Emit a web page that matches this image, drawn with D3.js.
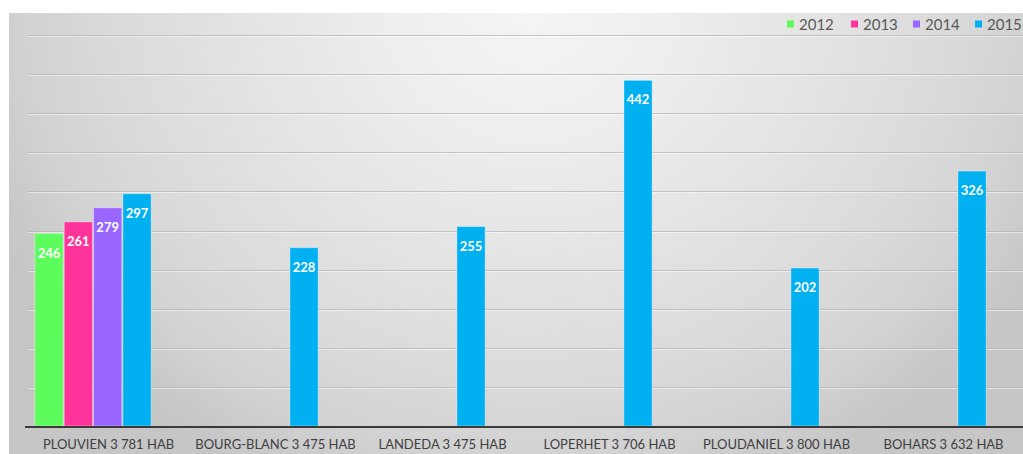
<!DOCTYPE html>
<html>
<head>
<meta charset="utf-8">
<script src="https://cdn.jsdelivr.net/npm/d3@7"></script>
<style>
  html, body { margin: 0; padding: 0; background: #ffffff; }
  svg { display: block; font-family: Lato, "Open Sans", sans-serif; }
</style>
</head>
<body>
<svg id="chart" width="1023" height="454"></svg>
<script>
// Communes and their population, one group of bars per commune
const communes = [
  "PLOUVIEN 3 781 HAB",
  "BOURG-BLANC 3 475 HAB",
  "LANDEDA 3 475 HAB",
  "LOPERHET 3 706 HAB",
  "PLOUDANIEL 3 800 HAB",
  "BOHARS 3 632 HAB"
];
const years = ["2012", "2013", "2014", "2015"];
// Values per year (null where a commune has no figure for that year)
const values2012 = [246, null, null, null, null, null];
const values2013 = [261, null, null, null, null, null];
const values2014 = [279, null, null, null, null, null];
const values2015 = [297, 228, 255, 442, 202, 326];
const yTicks = [50, 100, 150, 200, 250, 300, 350, 400, 450, 500];
const yearColors = ["#5cfc5c", "#ff3399", "#9966ff", "#00b0f0"];

const series = [values2012, values2013, values2014, values2015];

const svg = d3.select("#chart");
const W = 1023, H = 454;

// Soft gray panel, lightest near the top centre and darker towards the edges
const defs = svg.append("defs");
const grad = defs.append("radialGradient")
  .attr("id", "panelGrad")
  .attr("gradientUnits", "userSpaceOnUse")
  .attr("cx", 0).attr("cy", 0).attr("r", 1)
  .attr("gradientTransform", "translate(530,13) scale(594,528)");
[[0, "#f4f4f4"], [0.23, "#eeeeee"], [0.73, "#d9d9d9"], [0.86, "#d1d1d1"], [0.95, "#c8c8c8"], [1, "#c6c6c6"]]
  .forEach(([o, c]) => grad.append("stop").attr("offset", o).attr("stop-color", c));

svg.append("rect")
  .attr("x", 9).attr("y", 13)
  .attr("width", W - 9).attr("height", H - 13)
  .attr("fill", "url(#panelGrad)");

// Scales
const x0 = d3.scaleBand()
  .domain(communes)
  .range([9.5, 1011.5])
  .paddingInner(0.29)
  .paddingOuter(0.145);

const x1 = d3.scaleBand()
  .domain(years)
  .range([0, x0.bandwidth()])
  .padding(0.04);

const y = d3.scaleLinear()
  .domain([0, 500])
  .range([426, 35]);

const color = d3.scaleOrdinal().domain(years).range(yearColors);

// Horizontal gridlines with a faint highlight underneath
const grid = svg.append("g").attr("class", "grid");
grid.selectAll("line.g")
  .data(yTicks)
  .join("line")
  .attr("class", "g")
  .attr("x1", 28).attr("x2", W)
  .attr("y1", d => Math.round(y(d)) + 0.5)
  .attr("y2", d => Math.round(y(d)) + 0.5)
  .attr("stroke", "#b4b4b4").attr("stroke-opacity", 0.75).attr("stroke-width", 1);
grid.selectAll("line.h")
  .data(yTicks)
  .join("line")
  .attr("class", "h")
  .attr("x1", 28).attr("x2", W)
  .attr("y1", d => Math.round(y(d)) + 1.5)
  .attr("y2", d => Math.round(y(d)) + 1.5)
  .attr("stroke", "#ffffff").attr("stroke-opacity", 0.5).attr("stroke-width", 1);

// Bars
const rows = communes.map((c, i) => ({
  commune: c,
  bars: years.map((yr, j) => ({ year: yr, value: series[j][i] })).filter(b => b.value != null)
}));

const groups = svg.append("g").selectAll("g")
  .data(rows)
  .join("g")
  .attr("transform", d => `translate(${x0(d.commune)},0)`);

groups.selectAll("rect")
  .data(d => d.bars)
  .join("rect")
  .attr("x", d => x1(d.year))
  .attr("y", d => y(d.value))
  .attr("width", x1.bandwidth())
  .attr("height", d => y(0) - y(d.value))
  .attr("fill", d => color(d.year))
  .attr("stroke", "#ffffff").attr("stroke-opacity", 0.35).attr("stroke-width", 1);

groups.selectAll("text")
  .data(d => d.bars)
  .join("text")
  .attr("x", d => x1(d.year) + x1.bandwidth() / 2)
  .attr("y", d => y(d.value) + 24)
  .attr("text-anchor", "middle")
  .attr("fill", "#ffffff")
  .attr("font-weight", "bold")
  .attr("font-size", 13)
  .text(d => d.value);

// Category axis (labels sit slightly right of the bar groups)
const xAxis = svg.append("g")
  .attr("transform", `translate(15.5,${y(0)})`)
  .call(d3.axisBottom(x0).tickSize(0).tickPadding(14));
xAxis.select(".domain").remove();
xAxis.selectAll("text")
  .attr("font-family", "Lato, 'Open Sans', sans-serif")
  .attr("font-size", 13)
  .attr("fill", "#404040");

svg.append("line")
  .attr("x1", 25).attr("x2", W)
  .attr("y1", y(0) + 1).attr("y2", y(0) + 1)
  .attr("stroke", "#3a3a3a").attr("stroke-width", 2);

// Legend
const legendX = [787, 851, 913, 975];
const legend = svg.append("g").selectAll("g")
  .data(years)
  .join("g")
  .attr("transform", (d, i) => `translate(${legendX[i]},24)`);
legend.append("rect")
  .attr("x", 0).attr("y", -3.5)
  .attr("width", 7).attr("height", 7)
  .attr("fill", d => color(d));
legend.append("text")
  .attr("x", 12).attr("y", 6)
  .attr("font-size", 15)
  .attr("fill", "#595959")
  .text(d => d);
</script>
</body>
</html>
